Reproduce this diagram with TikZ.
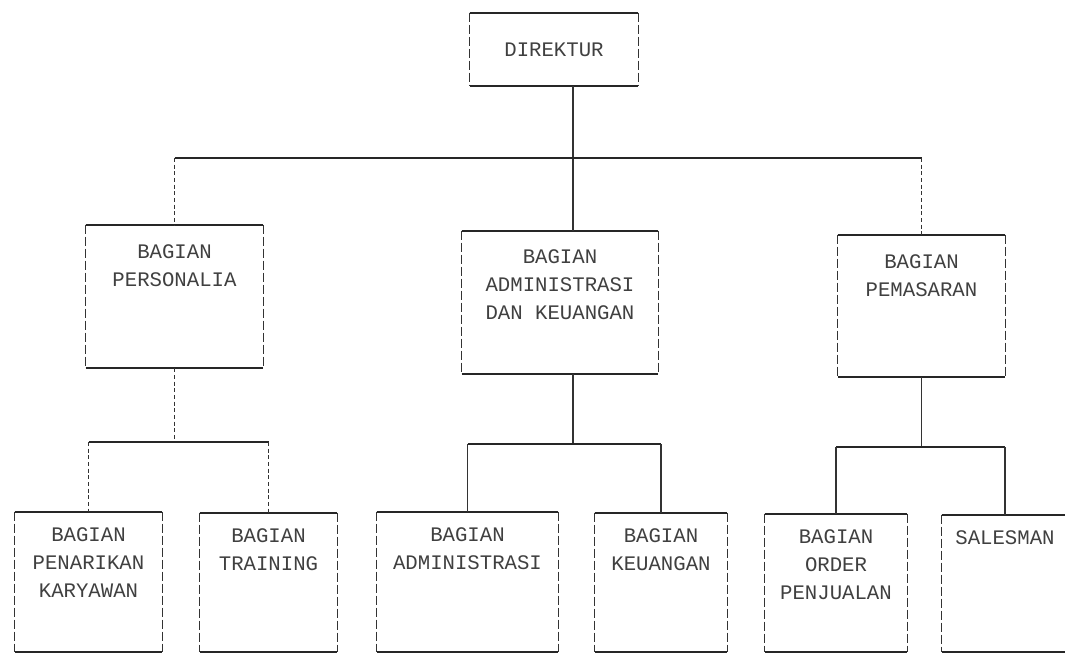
\documentclass[tikz,border=0pt]{standalone}
\usepackage{fontspec}
\newfontfamily\dotfont{Liberation Mono}
\usetikzlibrary{positioning}

\tikzset{
  unit/.style 2 args={minimum width=#1*0.75pt, minimum height=#2*0.75pt, inner sep=0pt},
  caption/.style={font=\dotfont\fontsize{15.5}{21}\selectfont, align=center, inner sep=0pt, text=black!75},
  hrule/.style={line width=1.4pt, black!85},
  vrule/.style={line width=0.9pt, black!80, dash pattern=on 7pt off 2pt},
  bus/.style={line width=1.4pt, black!85},
  drop/.style={line width=0.8pt, black!80},
}

\begin{document}
\begin{tikzpicture}[x=0.75pt, y=-0.75pt]
\useasboundingbox (0,0) rectangle (1065,654);

% top
\node[unit={168}{73}] (dir) at (554,49.5) {};
\node[caption] (dir-t) at (dir) {DIREKTUR};

% second row
\node[unit={177}{143}] (per) at (174.5,296.5) {};
\node[unit={196}{143}] (adm) at (560,302.5) {};
\node[unit={167}{142}] (pem) at (921.5,306) {};
\node[caption, below=15pt of per.north] (per-t) {BAGIAN\\PERSONALIA};
\node[caption, below=14pt of adm.north] (adm-t) {BAGIAN\\ADMINISTRASI\\DAN KEUANGAN};
\node[caption, below=15pt of pem.north] (pem-t) {BAGIAN\\PEMASARAN};

% third row
\node[unit={147}{140}] (rekrut) at (88.5,582) {};
\node[unit={137}{139}] (train) at (268.5,582.5) {};
\node[unit={181}{140}] (admin) at (467.5,582) {};
\node[unit={132}{139}] (keu) at (661,582.5) {};
\node[unit={142}{138}] (order) at (836,583) {};
\node[unit={126}{137}] (sales) at (1005,583.5) {};
\node[caption, below=12pt of rekrut.north] (rekrut-t) {BAGIAN\\PENARIKAN\\KARYAWAN};
\node[caption, below=12pt of train.north] (train-t) {BAGIAN\\TRAINING};
\node[caption, below=12pt of admin.north] (admin-t) {BAGIAN\\ADMINISTRASI};
\node[caption, below=12pt of keu.north] (keu-t) {BAGIAN\\KEUANGAN};
\node[caption, below=12pt of order.north] (order-t) {BAGIAN\\ORDER\\PENJUALAN};
\node[caption, below=12pt of sales.north] (sales-t) {SALESMAN};

% box edges
\foreach \b in {dir,per,adm,pem,rekrut,train,admin,keu,order,sales} {
  \draw[hrule] (\b.north west) -- (\b.north east);
  \draw[hrule] (\b.south west) -- (\b.south east);
  \draw[vrule] (\b.north west) -- (\b.south west);
  \draw[vrule] (\b.north east) -- (\b.south east);
}

% direktur to bagian
\coordinate (c1) at (573,158);
\draw[drop] (c1 |- dir.south) -- (c1 |- adm.north);
\draw[bus] (per.north |- c1) -- (pem.north |- c1);
\draw[drop, densely dashed] (per.north |- c1) -- (per.north);
\draw[drop, densely dashed] (pem.north |- c1) -- (pem.north);

% personalia
\coordinate (c2) at (0,442);
\draw[drop, densely dashed] (per.south) -- (per.south |- c2);
\draw[bus] (rekrut.north |- c2) -- (train.north |- c2);
\draw[drop, densely dashed] (rekrut.north |- c2) -- (rekrut.north);
\draw[drop, densely dashed] (train.north |- c2) -- (train.north);

% administrasi dan keuangan
\coordinate (c3) at (0,444);
\draw[drop] (c1 |- adm.south) -- (c1 |- c3);
\draw[bus] (admin.north |- c3) -- (keu.north |- c3);
\draw[drop] (admin.north |- c3) -- (admin.north);
\draw[drop] (keu.north |- c3) -- (keu.north);

% pemasaran
\coordinate (c4) at (0,447);
\draw[drop] (pem.south) -- (pem.south |- c4);
\draw[bus] (order.north |- c4) -- (sales.north |- c4);
\draw[drop] (order.north |- c4) -- (order.north);
\draw[drop] (sales.north |- c4) -- (sales.north);
\end{tikzpicture}
\end{document}
